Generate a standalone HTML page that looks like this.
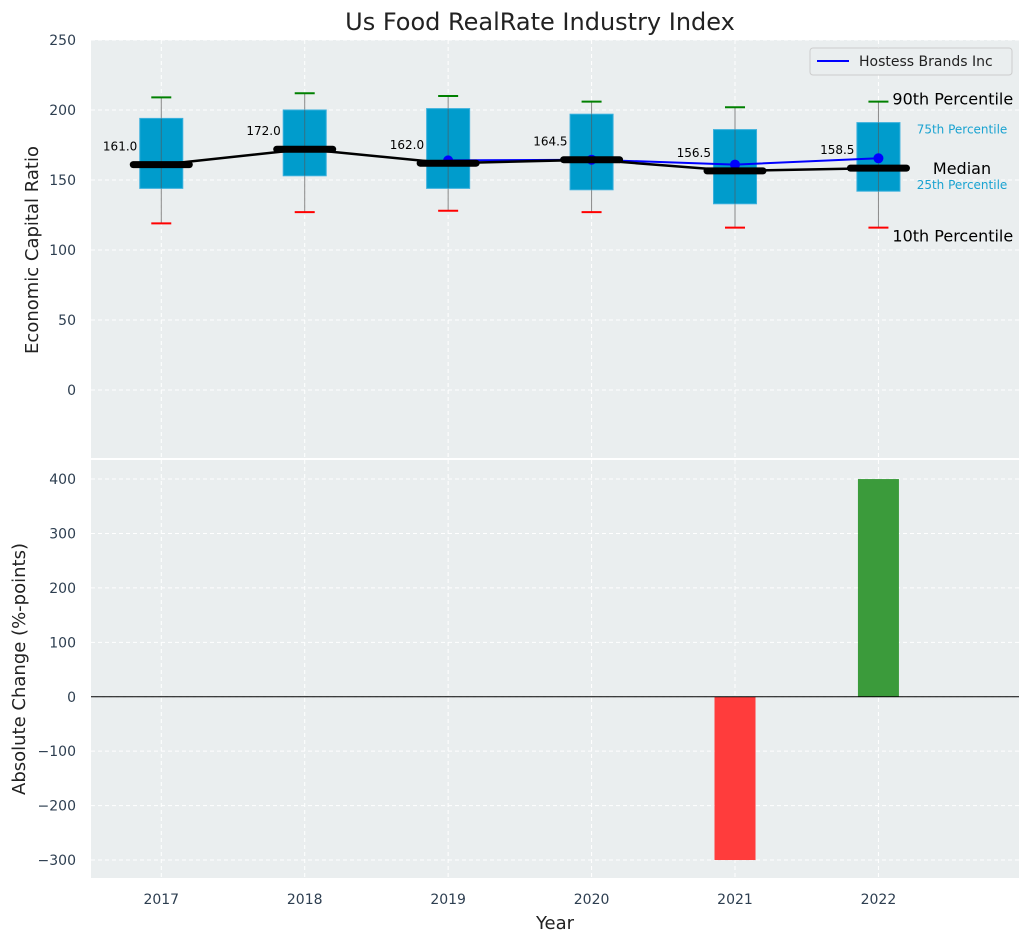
<!DOCTYPE html>
<html><head><meta charset="utf-8"><style>
body{margin:0;background:#fff;font-family:"Liberation Sans","DejaVu Sans",sans-serif}
svg text{font-family:"DejaVu Sans","Liberation Sans",sans-serif}
</style></head><body>
<svg id="c" width="1029" height="942" xmlns="http://www.w3.org/2000/svg"></svg>
<script>
const years=[2017,2018,2019,2020,2021,2022];
const p10=[119,127,128,127,116,116];
const p90=[209,212,210,206,202,206];
const q1=[144,153,144,143,133,142];
const q3=[194,200,201,197,186,191];
const medians=[161,172,162,164.5,156.5,158.5];
const hostYears=[2019,2020,2021,2022];
const hostVals=[164,164.5,161,165.5];
const changeYears=[2021,2022];
const changeVals=[-300,400];
const topTicks=[0,50,100,150,200,250];
const botTicks=[-300,-200,-100,0,100,200,300,400];

const NS="http://www.w3.org/2000/svg";
const svg=document.getElementById('c');
function el(t,a,txt){const e=document.createElementNS(NS,t);for(const k in a)e.setAttribute(k,a[k]);if(txt!==undefined)e.textContent=txt;svg.appendChild(e);return e;}
const L=91,R=1019;
const X=v=>L+(v-2016.51)*(R-L)/(2022.98-2016.51);
const T0=40,T1=458,B0=460,B1=878;
const YT=v=>T1-(v+48.6)*(T1-T0)/(250+48.6);
const YB=v=>B1-(v+333)*(B1-B0)/(435+333);

let e;
e=el('rect',{x:L,y:T0,width:R-L,height:T1-T0,fill:'#eaeeef'});

e=el('rect',{x:L,y:B0,width:R-L,height:B1-B0,fill:'#eaeeef'});


years.forEach(y=>{
  el('line',{x1:X(y),x2:X(y),y1:T0,y2:T1,stroke:'#fff','stroke-dasharray':'4,3','stroke-width':1});
  el('line',{x1:X(y),x2:X(y),y1:B0,y2:B1,stroke:'#fff','stroke-dasharray':'4,3','stroke-width':1});
  e=el('text',{x:X(y),y:904,'text-anchor':'middle','font-size':14,fill:'#2d3e50'},y);
  
});
topTicks.forEach(t=>{
  el('line',{x1:L,x2:R,y1:YT(t),y2:YT(t),stroke:'#fff','stroke-dasharray':'4,3'});
  e=el('text',{x:76,y:YT(t)+5,'text-anchor':'end','font-size':14,fill:'#2d3e50'},t);
  
});
botTicks.forEach(t=>{
  el('line',{x1:L,x2:R,y1:YB(t),y2:YB(t),stroke:'#fff','stroke-dasharray':'4,3'});
  e=el('text',{x:76,y:YB(t)+5,'text-anchor':'end','font-size':14,fill:'#2d3e50'},t<0?'\u2212'+(-t):t);
  
});

const bw=0.3*(X(1)-X(0));
years.forEach((y,i)=>{
  const cx=X(y);
  e=el('line',{x1:cx,x2:cx,y1:YT(p90[i]),y2:YT(p10[i]),stroke:'#888','stroke-width':1});
  
  e=el('rect',{x:cx-bw/2,y:YT(q3[i]),width:bw,height:YT(q1[i])-YT(q3[i]),fill:'#009ccc',stroke:'#3ab0dd','stroke-width':1});
  
  el('line',{x1:cx,x2:cx,y1:YT(q3[i]),y2:YT(q1[i]),stroke:'#555','stroke-width':1,opacity:0.6});
  e=el('line',{x1:cx-10,x2:cx+10,y1:YT(p90[i]),y2:YT(p90[i]),stroke:'green','stroke-width':2});
  
  e=el('line',{x1:cx-10,x2:cx+10,y1:YT(p10[i]),y2:YT(p10[i]),stroke:'red','stroke-width':2});
  
});
e=el('polyline',{points:hostYears.map((y,i)=>X(y)+','+YT(hostVals[i])).join(' '),fill:'none',stroke:'blue','stroke-width':2});

hostYears.forEach((y,i)=>{e=el('circle',{cx:X(y),cy:YT(hostVals[i]),r:5,fill:'blue'});
  });
e=el('polyline',{points:years.map((y,i)=>X(y)+','+YT(medians[i])).join(' '),fill:'none',stroke:'#000','stroke-width':2.5});

years.forEach((y,i)=>{
  const cx=X(y);
  e=el('line',{x1:cx-28,x2:cx+28,y1:YT(medians[i]),y2:YT(medians[i]),stroke:'#000','stroke-width':7,'stroke-linecap':'round'});
  
  e=el('text',{x:cx-24,y:YT(medians[i])-14,'text-anchor':'end','font-size':12,fill:'#000'},medians[i].toFixed(1));
  
});
const ax=X(2022)+14;
[['90th Percentile',YT(p90[5])+3,16,'#000','start',ax],['10th Percentile',YT(p10[5])+14,16,'#000','start',ax],
 ['Median',YT(medians[5])+6,16,'#000','middle',962],['75th Percentile',YT(q3[5])+11,12,'#1aa3d1','middle',962],['25th Percentile',YT(q1[5])-2,12,'#1aa3d1','middle',962]]
.forEach(a=>{e=el('text',{x:a[5],y:a[1],'font-size':a[2],fill:a[3],'text-anchor':a[4]},a[0]);
  });
e=el('rect',{x:810,y:48,width:202,height:27,rx:3,fill:'#eaeeef',stroke:'#ccc'});

el('line',{x1:817,x2:849,y1:61,y2:61,stroke:'blue','stroke-width':2});
e=el('text',{x:859,y:66,'font-size':14,fill:'#222'},'Hostess Brands Inc');


changeYears.forEach((y,i)=>{
  const v=changeVals[i],w=41;
  e=el('rect',{x:X(y)-w/2,y:Math.min(YB(v),YB(0)),width:w,height:Math.abs(YB(v)-YB(0)),fill:v<0?'#ff3c3c':'#3b9b3b'});
  
});
el('line',{x1:L,x2:R,y1:YB(0),y2:YB(0),stroke:'#000','stroke-width':1});
el('rect',{x:L,y:T1,width:R-L,height:B0-T1,fill:'#fff'});

e=el('text',{x:540,y:30,'text-anchor':'middle','font-size':24,fill:'#222'},'Us Food RealRate Industry Index');

e=el('text',{x:555,y:929,'text-anchor':'middle','font-size':18,fill:'#222'},'Year');

e=el('text',{x:38,y:250,'text-anchor':'middle','font-size':18,fill:'#222',transform:'rotate(-90 38 250)'},'Economic Capital Ratio');

e=el('text',{x:25,y:669,'text-anchor':'middle','font-size':18,fill:'#222',transform:'rotate(-90 25 669)'},'Absolute Change (%-points)');

</script>
</body></html>
